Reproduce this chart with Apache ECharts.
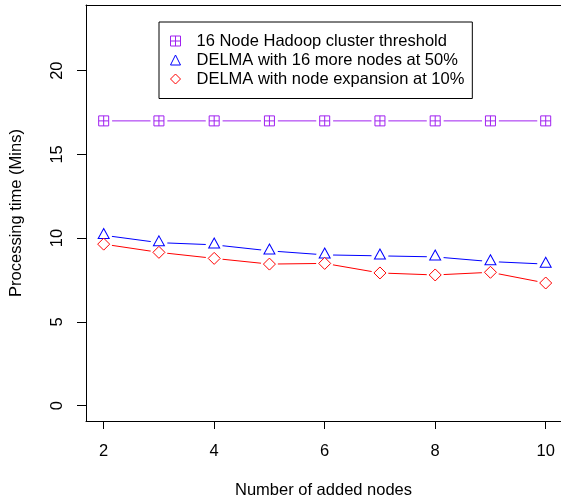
<!DOCTYPE html>
<html>
<head>
<meta charset="utf-8">
<script src="https://cdn.jsdelivr.net/npm/echarts@6/dist/echarts.min.js"></script>
<style>
html,body{margin:0;padding:0;background:#fff;}
#c{width:561px;height:504px;}
</style>
</head>
<body>
<div id="c"></div>
<script>
var nodes = [2, 3, 4, 5, 6, 7, 8, 9, 10];
var hadoopThreshold = [17, 17, 17, 17, 17, 17, 17, 17, 17];
var delma16More = [10.17, 9.73, 9.60, 9.24, 9.00, 8.94, 8.88, 8.60, 8.45];
var delmaExpansion = [9.64, 9.15, 8.79, 8.45, 8.49, 7.92, 7.80, 7.96, 7.32];
var xTicks = [2, 4, 6, 8, 10];
var yTicks = [0, 5, 10, 15, 20];
var names = ['16 Node Hadoop cluster threshold', 'DELMA with 16 more nodes at 50%', 'DELMA with node expansion at 10%'];

var FONT = 'Liberation Sans, Arial, Helvetica, sans-serif';
var colors = ['#A020F0', '#0000FF', '#FF0000'];
var squarePlus = 'path://M0,0H10V10H0Z M5,0V10 M0,5H10';
var symbols = [squarePlus, 'triangle', 'diamond'];
var sizes = [[10, 10], [11, 10], [12, 12]];
var offsets = [[0, 0], [0, -1.8], [0, 0]];

function pairs(ys) { return nodes.map(function (x, i) { return [x, ys[i]]; }); }
var allData = [hadoopThreshold, delma16More, delmaExpansion];

var series = [];
allData.forEach(function (ys, k) {
  series.push({
    name: names[k], type: 'line', data: pairs(ys), showSymbol: false, symbol: 'none',
    lineStyle: { color: colors[k], width: 1 }, itemStyle: { color: colors[k] },
    z: 2, silent: true, animation: false
  });
});
allData.forEach(function (ys, k) {
  series.push({
    name: 'gap' + k, type: 'scatter', data: pairs(ys), symbol: 'circle', symbolSize: 17,
    itemStyle: { color: '#fff', opacity: 1 }, z: 3, silent: true, animation: false
  });
});
allData.forEach(function (ys, k) {
  series.push({
    name: names[k], type: 'scatter', data: pairs(ys), symbol: symbols[k], symbolSize: sizes[k],
    symbolOffset: offsets[k],
    itemStyle: { color: '#fff', borderColor: colors[k], borderWidth: 1, opacity: 1 },
    z: 4, silent: true, animation: false
  });
});

var chart = echarts.init(document.getElementById('c'), null, { renderer: 'canvas' });
chart.setOption({
  animation: false,
  backgroundColor: '#fff',
  grid: { left: 86, top: 5, width: 475, height: 418, show: false, containLabel: false },
  xAxis: [{
    type: 'value', min: 1.68, max: 10.277,
    name: 'Number of added nodes', nameLocation: 'middle', nameGap: 61,
    nameTextStyle: { fontFamily: FONT, fontSize: 16.5, color: '#000' },
    axisLine: { show: true, onZero: false, lineStyle: { color: '#000', width: 1 } },
    axisTick: { show: true, length: 8, customValues: xTicks, lineStyle: { color: '#000' } },
    axisLabel: { customValues: xTicks, margin: 22, fontFamily: FONT, fontSize: 16.5, color: '#000' },
    splitLine: { show: false }
  }, {
    type: 'value', position: 'top', min: 1.68, max: 10.277,
    axisLine: { show: true, onZero: false, lineStyle: { color: '#000', width: 1 } },
    axisTick: { show: false }, axisLabel: { show: false }, splitLine: { show: false }
  }],
  yAxis: {
    type: 'value', min: -0.92, max: 23.92,
    name: 'Processing time (Mins)', nameLocation: 'middle', nameGap: 61,
    nameTextStyle: { fontFamily: FONT, fontSize: 16.5, color: '#000' },
    axisLine: { show: true, onZero: false, lineStyle: { color: '#000', width: 1 } },
    axisTick: { show: true, length: 9, customValues: yTicks, lineStyle: { color: '#000' } },
    axisLabel: { customValues: yTicks, rotate: 90, margin: 20, fontFamily: FONT, fontSize: 16.5, color: '#000' },
    splitLine: { show: false }
  },
  legend: {
    left: 159, top: 22, orient: 'vertical',
    borderColor: '#000', borderWidth: 1, padding: [9.5, 8, 10, 11],
    itemWidth: 10, itemHeight: 10, itemGap: 0,
    selectedMode: false,
    textStyle: { fontFamily: FONT, fontSize: 16.5, color: '#000', lineHeight: 19, padding: [0, 0, 0, 11] },
    data: names.map(function (n, k) {
      return { name: n, icon: symbols[k], itemStyle: { color: '#fff', borderColor: colors[k], borderWidth: 1 } };
    })
  },
  series: series
});
</script>
</body>
</html>
